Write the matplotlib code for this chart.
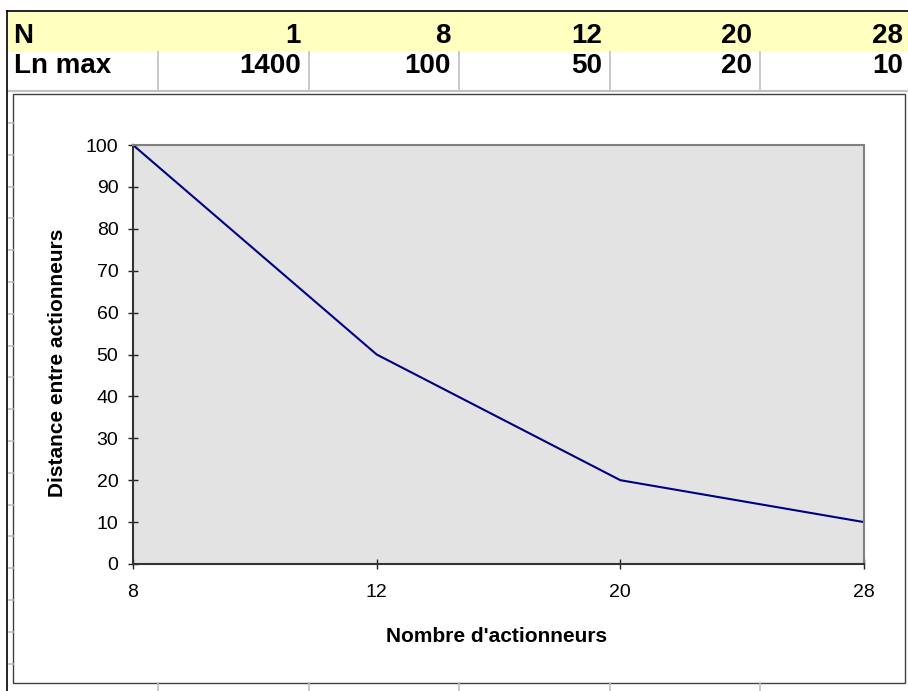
import numpy as np
import matplotlib
matplotlib.use("Agg")
import matplotlib.pyplot as plt
from matplotlib.patches import Rectangle

plt.rcParams['font.family'] = ['Liberation Sans', 'DejaVu Sans']

# sheet values
n_values = [1, 8, 12, 20, 28]
ln_max = [1400, 100, 50, 20, 10]

# the chart only uses the columns from N = 8 on
chart_n = n_values[1:]
chart_dist = ln_max[1:]

W, H = 908, 691
fig = plt.figure(figsize=(W / 100, H / 100), dpi=100)

# background layer in pixel coordinates (spreadsheet cells)
bg = fig.add_axes([0, 0, 1, 1])
bg.set_xlim(0, W)
bg.set_ylim(H, 0)
bg.axis('off')

col_edges = [7, 158, 309, 459, 610, 760, 910]
grid_gray = '#c0c0c0'
cell_fs = 20

# header row (yellow) and second row
bg.add_patch(Rectangle((8, 12), W - 8, 40, facecolor='#ffffc0', edgecolor='none'))
for x in col_edges[1:-1]:
    bg.plot([x, x], [52, 90], color=grid_gray, lw=1.2)
    bg.plot([x, x], [683, H], color=grid_gray, lw=1.2)
bg.plot([8, W], [90.5, 90.5], color=grid_gray, lw=1.5)
for y in np.arange(123, 683, 31.8):
    bg.plot([8, 13], [y, y], color=grid_gray, lw=1.2)
bg.plot([7, W], [11, 11], color='black', lw=1.2)
bg.plot([7, 7], [11, H], color='black', lw=1.2)

# cell text
bg.text(13, 43, 'N', fontsize=cell_fs, fontweight='bold', va='baseline', ha='left')
bg.text(14, 73, 'Ln max', fontsize=cell_fs, fontweight='bold', va='baseline', ha='left')
for i, (n, ln) in enumerate(zip(n_values, ln_max)):
    xr = col_edges[i + 2] - 8 if i < 4 else 903
    bg.text(xr, 43, str(n), fontsize=cell_fs, fontweight='bold', va='baseline', ha='right')
    bg.text(xr, 73, str(ln), fontsize=cell_fs, fontweight='bold', va='baseline', ha='right')

# chart object frame
bg.add_patch(Rectangle((13, 94), 892, 589, facecolor='white', edgecolor='#404040', lw=1.0))

# plot area
ax = fig.add_axes([133 / W, 1 - 564 / H, (864 - 133) / W, (564 - 145) / H])
ax.set_facecolor('#e3e3e3')
pos = np.arange(len(chart_n))
ax.plot(pos, chart_dist, color='#000080', lw=1.5, clip_on=False)
ax.set_xlim(0, len(chart_n) - 1)
ax.set_ylim(0, 100)
ax.set_xticks(pos)
ax.set_xticklabels([str(n) for n in chart_n])
ax.set_yticks(np.arange(0, 101, 10))

for side in ('top', 'right'):
    ax.spines[side].set_color('#808080')
    ax.spines[side].set_linewidth(1.5)
for side in ('left', 'bottom'):
    ax.spines[side].set_color('#333333')
    ax.spines[side].set_linewidth(1.5)

ax.tick_params(axis='both', direction='inout', length=7, width=1, color='#222222',
               labelsize=14, labelcolor='black')
ax.tick_params(axis='y', pad=7)
ax.tick_params(axis='x', pad=11)

fig.text(58 / W, 1 - 363 / H, 'Distance entre actionneurs', rotation=90,
         fontsize=15, fontweight='bold', ha='center', va='center')
fig.text(497 / W, 1 - 637 / H, "Nombre d'actionneurs",
         fontsize=15, fontweight='bold', ha='center', va='center')

fig.savefig('out.png', dpi=100)
